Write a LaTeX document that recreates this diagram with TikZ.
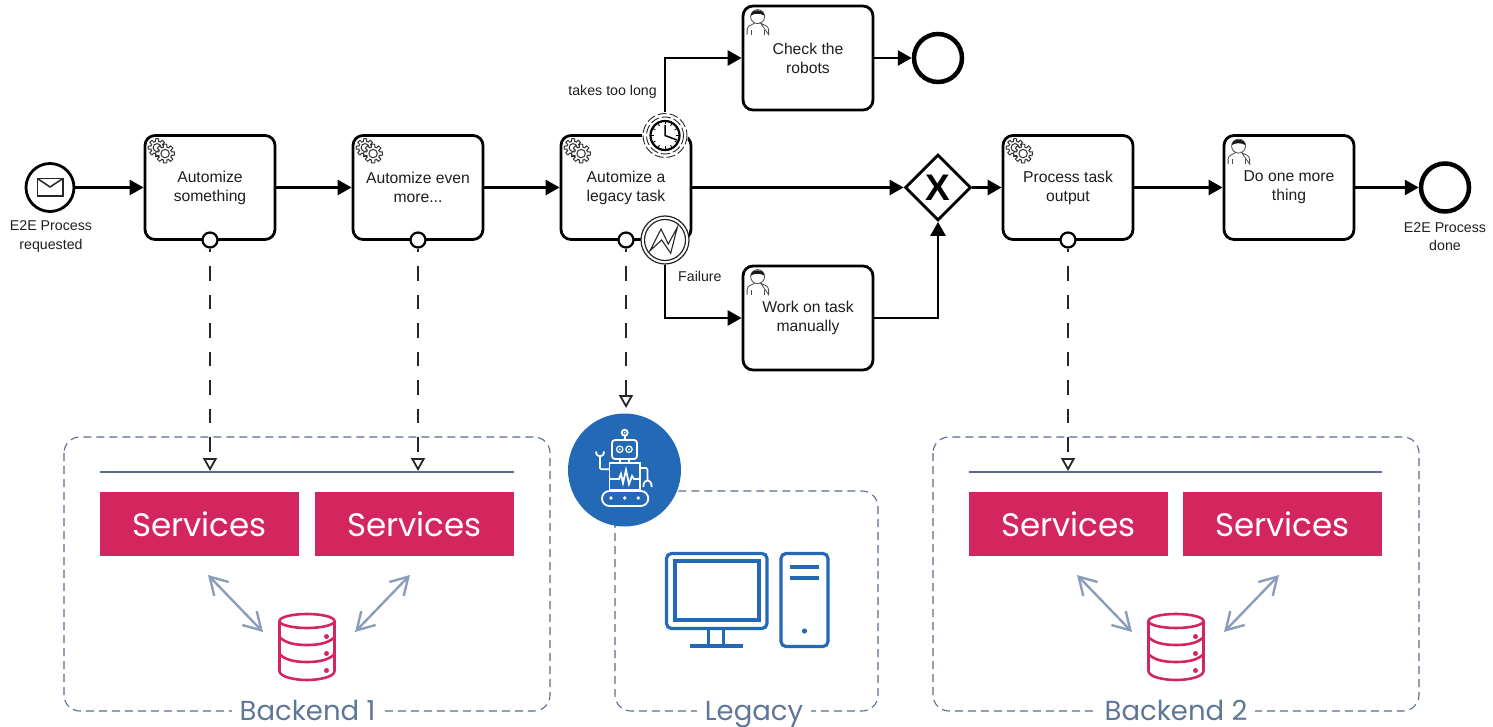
\documentclass[tikz,border=0pt]{standalone}
\usepackage{fontspec}
\setmainfont{Liberation Sans}
\newfontfamily\geofont{Poppins}
\usetikzlibrary{arrows.meta,shapes.geometric,calc}
\definecolor{crim}{HTML}{D4265E}
\definecolor{slatelab}{HTML}{5F7698}
\definecolor{slateline}{HTML}{5B6C8E}
\definecolor{slatearrow}{HTML}{8A9EBB}
\definecolor{robotblue}{HTML}{2369B5}
\definecolor{txt}{HTML}{1E1E1E}
\tikzset{
  x=1pt,y=-1pt,
  flow/.style={line width=2.8pt,black,-{Triangle[length=14pt,width=15pt]}},
  assoc/.style={line width=2pt,black!85,dash pattern=on 14.5pt off 14pt,dash phase=11pt,-{Triangle[open,length=13pt,width=14pt,fill=white,line width=1.8pt]}},
  task/.style={draw=black,fill=white,line width=2.8pt,rounded corners=10pt,minimum width=130pt,minimum height=104pt,inner sep=0pt,align=center,font=\fontsize{15.7}{19}\selectfont,text=txt},
  evt/.style={circle,draw=black,fill=white,inner sep=0pt,minimum size=48pt},
  port/.style={circle,draw=black,fill=white,line width=2.2pt,inner sep=0pt,minimum size=15pt},
  lab/.style={inner sep=0pt,align=center,font=\fontsize{14.2}{18.5}\selectfont,text=txt},
  svc/.style={fill=crim,inner sep=0pt,minimum width=199pt,minimum height=64pt,text=white,font=\geofont\fontsize{32.5}{32.5}\selectfont},
  group/.style={draw=slateline,line width=1.1pt,rounded corners=16pt,dash pattern=on 8pt off 5pt},
  grouplab/.style={anchor=base,fill=white,inner sep=0pt,inner xsep=8pt,text=slatelab,font=\geofont\fontsize{27.5}{27.5}\selectfont},
  rulel/.style={draw=slateline,line width=2.3pt},
  dbl/.style={draw=slatearrow,line width=2.4pt,{Straight Barb[length=17pt,width=20pt,line width=2.4pt]}-{Straight Barb[length=17pt,width=20pt,line width=2.4pt]}},
}
\newcommand{\gearicon}[1]{%
  \begin{scope}[shift={(#1)}]
    \begin{scope}[shift={(13.5,13.5)}]
      \filldraw[draw=black!80,fill=white,line width=1pt] plot[domain=0:360,samples=73] (\x:{7.6+1.3*sign(cos(8*\x))}) -- cycle;
      \draw[black!80,line width=1pt] (0,0) circle (4);
    \end{scope}
    \begin{scope}[shift={(21.5,19.5)}]
      \filldraw[draw=black!80,fill=white,line width=1pt] plot[domain=0:360,samples=73] (\x:{8+1.4*sign(cos(8*\x))}) -- cycle;
      \draw[black!80,line width=1pt] (0,0) circle (4.2);
    \end{scope}
  \end{scope}}
\newcommand{\usericon}[1]{%
  \begin{scope}[shift={(#1)},yshift=-1pt]
    \draw[black!70,line width=0.8pt] (5.5,29) -- (5.5,24) .. controls (5.5,20) and (10,19.5) .. (13,17.5) (19,17.5) .. controls (22,19.5) and (27,20) .. (27,24) -- (27,29) -- cycle;
    \draw[black!70,line width=0.8pt] (10,24) -- (10,29) (22.5,24) -- (22.5,29);
    \draw[black!70,line width=0.8pt] (16,11) circle (7);
    \fill[black!90] (9.2,10) .. controls (9.5,3) and (22.5,3) .. (22.8,10) .. controls (19,7.5) and (13,7.5) .. (9.2,10) -- cycle;
  \end{scope}}
\newcommand{\dbicon}[1]{%
  \begin{scope}[shift={(#1)},draw=crim,line width=2.6pt]
    \draw[crim] (0,0) ellipse (27.5 and 7);
    \draw[crim] (-27.5,0) -- (-27.5,50) .. controls (-27.5,56) and (-12,59) .. (0,59) .. controls (12,59) and (27.5,56) .. (27.5,50) -- (27.5,0);
    \draw[crim] (-27.5,16) .. controls (-22,22) and (-12,24) .. (0,24) .. controls (12,24) and (22,22) .. (27.5,16);
    \draw[crim] (-27.5,33) .. controls (-22,39) and (-12,41) .. (0,41) .. controls (12,41) and (22,39) .. (27.5,33);
    \fill[crim] (19.5,15.5) circle (2.5) (19.5,32.5) circle (2.5) (19.5,49.5) circle (2.5);
  \end{scope}}
\begin{document}
\begin{tikzpicture}
\useasboundingbox (0,0) rectangle (1493,727);
% groups
\draw[group] (64,437) rectangle (550,711);
\draw[group] (615,491) rectangle (878,711);
\draw[group] (933,437) rectangle (1419,711);
\node[grouplab] (gl1) at (307.5,720) {Backend 1};
\node[grouplab] (gl2) at (754,720) {Legacy};
\node[grouplab] (gl3) at (1176,720) {Backend 2};
% rules
\coordinate (r1a) at (100,472); \coordinate (r1b) at (514,472);
\coordinate (r2a) at (969,472); \coordinate (r2b) at (1382,472);
\draw[rulel] (r1a) -- (r1b);
\draw[rulel] (r2a) -- (r2b);
% services
\node[svc] (s1) at (199.5,524) {Services};
\node[svc] (s2) at (414.5,524) {Services};
\node[svc] (s3) at (1068.5,524) {Services};
\node[svc] (s4) at (1282.5,524) {Services};
% data stores
\dbicon{307,621}
\dbicon{1176,621}
\coordinate (a1) at (208,575); \coordinate (a2) at (263,632);
\coordinate (a3) at (410,575); \coordinate (a4) at (355,632);
\coordinate (a5) at (1077,575); \coordinate (a6) at (1132,632);
\coordinate (a7) at (1279,575); \coordinate (a8) at (1224,632);
\draw[dbl] (a1) -- (a2);
\draw[dbl] (a3) -- (a4);
\draw[dbl] (a5) -- (a6);
\draw[dbl] (a7) -- (a8);
% computer
\begin{scope}[draw=robotblue,robotblue]
  \draw[line width=3.2pt,rounded corners=5pt] (666.5,553.5) rectangle (767,628.5);
  \draw[line width=3.2pt] (675,561) rectangle (759,620);
  \draw[line width=3pt] (708.5,629) -- (708.5,646) (723.5,629) -- (723.5,646);
  \draw[line width=3.2pt] (690,646) -- (743,646);
  \draw[line width=3.2pt,rounded corners=5pt] (781,553.5) rectangle (828,646.5);
  \draw[line width=3.8pt] (790,567) -- (819,567) (790,578) -- (819,578);
  \fill (804.5,631) circle (2.6);
\end{scope}
% robot
\node[circle,fill=robotblue,inner sep=0pt,minimum size=113pt] (robot) at (624.5,470) {};
\begin{scope}[line width=1.8pt]
  \draw[white] (624.7,432.7) circle (3);
  \fill[white] (624.7,432.7) circle (1);
  \draw[white] (624.7,435.7) -- (624.7,440);
  \draw[white,rounded corners=3pt] (612,440) rectangle (637,459);
  \draw[white,line width=1.2pt] (619.7,449.3) circle (3.2) (629,449.3) circle (3.2);
  \fill[white] (619.7,449.3) circle (1) (629,449.3) circle (1);
  \draw[white] (620,459) -- (620,463) (629,459) -- (629,463);
  \draw[white] (609.5,463) rectangle (640,490);
  \draw[white] (609.5,479) -- (619,479) -- (621,474) -- (623,483) -- (626,470) -- (629,484) -- (632,476) -- (634,479) -- (640,479);
  \draw[white,rounded corners=7.5pt] (602,491) rectangle (648.3,506);
  \fill[white] (611,498) circle (1.9) (624.7,498) circle (1.9) (638.3,498) circle (1.9);
  \draw[white,rounded corners=1.5pt] (609.5,469.3) -- (600,469.3) -- (600,456.7);
  \draw[white] (596,451.5) .. controls (596,458) and (604,458) .. (604,451.5);
  \draw[white,rounded corners=1.5pt] (640,468) -- (647.5,468) -- (647.5,480);
  \draw[white] (643.3,487) .. controls (643.5,478) and (651.5,478) .. (651.7,487);
\end{scope}
% tasks
\node[evt,line width=2.8pt] (start) at (50,187.5) {};
\draw[black!85,line width=1.5pt] (37.5,178.5) rectangle (63,196);
\draw[black!85,line width=1.5pt] (37.5,178.5) -- (50,187) -- (63,178.5);
\node[task] (t1) at (210,187.5) {Automize\\something};
\node[task] (t2) at (418,187.5) {Automize even\\more...};
\node[task] (t3) at (626,187.5) {Automize a\\legacy task};
\node[task] (t4) at (1068,187.5) {Process task\\output};
\node[task] (t5) at (1289,187.5) {Do one more\\thing};
\node[task] (t6) at (808,58) {Check the\\robots};
\node[task] (t7) at (808,318) {Work on task\\manually};
\gearicon{t1.north west}
\gearicon{t2.north west}
\gearicon{t3.north west}
\gearicon{t4.north west}
\usericon{t5.north west}
\usericon{t6.north west}
\usericon{t7.north west}
\node[evt,line width=4.5pt] (endtop) at (938,58) {};
\node[evt,line width=4.5pt] (endright) at (1445,187.5) {};
\node[diamond,draw=black,fill=white,line width=2.8pt,inner sep=0pt,minimum width=66pt,minimum height=66pt,font=\bfseries\fontsize{37}{37}\selectfont] (gw) at (938,187.5) {X};
% ports
\node[port] (p1) at (210,240) {};
\node[port] (p2) at (418,240) {};
\node[port] (p3) at (626,240) {};
\node[port] (p4) at (1068,240) {};
% boundary events
\node[circle,draw=none,fill=white,inner sep=0pt,minimum size=46pt] (timer) at (665,135.5) {};
\draw[black!85,line width=0.9pt,dash pattern=on 9pt off 3pt] (665,135.5) circle (18.5);
\draw[black!85,line width=0.9pt,dash pattern=on 9pt off 3pt] (665,135.5) circle (22);
\draw[black,line width=2.2pt] (665,135.5) circle (14.5);
\draw[black,line width=1.5pt] (665,125) -- (665,135.5) -- (677,140);
\foreach \a in {0,30,...,330} \draw[black,line width=0.8pt] ($(665,135.5)+(\a:11)$) -- ($(665,135.5)+(\a:14)$);
\node[circle,draw=black!85,fill=white,line width=1.2pt,inner sep=0pt,minimum size=48pt] (err) at (665,240) {};
\draw[black!85,line width=1.2pt] (665,240) circle (20.5);
\draw[black!85,line width=1.1pt] (650,250.7) -- (661,229) -- (668.3,244) -- (677.3,227.3) -- (670.7,253.3) -- (661.7,240) -- cycle;
% flows
\draw[flow] (start) -- (t1);
\draw[flow] (t1) -- (t2);
\draw[flow] (t2) -- (t3);
\draw[flow] (t3) -- (gw);
\draw[flow] (gw) -- (t4);
\draw[flow] (t4) -- (t5);
\draw[flow] (t5) -- (endright);
\draw[flow] (t6) -- (endtop);
\draw[flow] (timer) |- (t6);
\draw[flow] (err) |- (t7);
\draw[flow] (t7) -| (gw);
% associations
\coordinate (d1) at (210,471);
\coordinate (d2) at (418,471);
\coordinate (d3) at (626,408);
\coordinate (d4) at (1068,471);
\draw[assoc] (p1) -- (d1);
\draw[assoc] (p2) -- (d2);
\draw[assoc] (p3) -- (d3);
\draw[assoc] (p4) -- (d4);
% labels
\node[lab] (l1) at (51,236.5) {E2E Process\\requested};
\node[lab] (l2) at (1445,236.5) {E2E Process\\done};
\node[lab,anchor=east] (l3) at (657,92) {takes too long};
\node[lab,anchor=west] (l4) at (678,276.5) {Failure};
\end{tikzpicture}
\end{document}
